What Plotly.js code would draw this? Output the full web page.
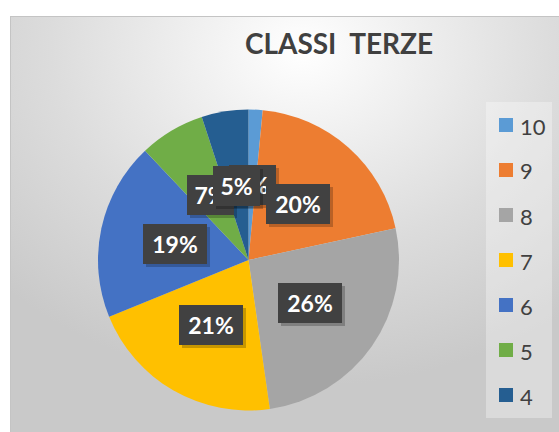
<!DOCTYPE html>
<html>
<head>
<meta charset="utf-8">
<script src="https://cdn.plot.ly/plotly-3.0.1.min.js"></script>
<style>
  html, body { margin: 0; padding: 0; background: #ffffff; }
  #wrap { position: relative; width: 559px; height: 432px; overflow: hidden; }
  #bg { position: absolute; left: 10px; top: 16px; width: 560px; height: 420px;
        border-left: 1px solid #c4c4c4; border-top: 1px solid #c4c4c4;
        background: radial-gradient(ellipse 75% 80% at 52% 8%, #ffffff 0%, #f2f2f2 22%, #dcdcdc 60%, #c9c9c9 100%); }
  #chart { position: absolute; left: 0; top: 0; width: 559px; height: 432px; }
</style>
</head>
<body>
<div id="wrap">
  <div id="bg"></div>
  <div id="chart"></div>
</div>
<script>
// ---- data ----
const categories = ['10', '9', '8', '7', '6', '5', '4'];
const values = [1.5, 20, 26, 21, 19, 7, 5];
const colors = ['#5B9BD5', '#ED7D31', '#A5A5A5', '#FFC000', '#4472C4', '#70AD47', '#255E91'];
const titleText = 'CLASSI\u00a0 TERZE';

// ---- layout geometry ----
const W = 559, H = 432;
const cx = 248.5, cy = 260, r = 150.5;   // pie centre / radius in px
const px = x => x / W;
const py = y => 1 - y / H;

const annotations = [];
const shapes = [];

// data labels (percent) computed from the values
const total = values.reduce((a, b) => a + b, 0);
let cum = 0;
values.forEach((v, i) => {
  const mid = (cum + v / 2) / total * 2 * Math.PI;
  cum += v;
  const lx = cx + 0.5 * r * Math.sin(mid);
  const ly = cy - 0.5 * r * Math.cos(mid);
  const txt = Math.round(v / total * 100) + '%';
  const bw = 17 * txt.length + 1;
  const base = {
    xref: 'paper', yref: 'paper', x: px(lx), y: py(ly),
    xanchor: 'center', yanchor: 'middle', showarrow: false,
    width: bw, height: 28, align: 'center', valign: 'middle',
    borderpad: 6, borderwidth: 0
  };
  // drop shadow box (no text)
  annotations.push(Object.assign({}, base, {
    text: ' ',
    font: { family: 'Lato, sans-serif', size: 23, color: 'rgba(0,0,0,0)' },
    bgcolor: 'rgba(0,0,0,0.22)', xshift: 3, yshift: -3
  }));
  annotations.push(Object.assign({}, base, {
    text: '<b>' + txt + '</b>',
    font: { family: 'Lato, sans-serif', size: 23, color: '#ffffff' },
    bgcolor: '#414141'
  }));
});

// legend box
shapes.push({ type: 'rect', xref: 'paper', yref: 'paper',
  x0: px(486), x1: px(552), y0: py(418), y1: py(102),
  fillcolor: 'rgba(255,255,255,0.32)', line: { width: 0 }, layer: 'below' });
categories.forEach((c, i) => {
  const yc = 125 + 45 * i;
  shapes.push({ type: 'rect', xref: 'paper', yref: 'paper',
    x0: px(499), x1: px(513), y0: py(yc + 7), y1: py(yc - 7),
    fillcolor: colors[i], line: { width: 0 } });
  annotations.push({ xref: 'paper', yref: 'paper', x: px(518), y: py(yc + 1),
    xanchor: 'left', yanchor: 'middle', showarrow: false, text: c,
    font: { family: 'Lato, sans-serif', size: 22, color: '#404040' } });
});

const trace = {
  type: 'pie',
  labels: categories,
  values: values,
  sort: false,
  direction: 'clockwise',
  rotation: 0,
  textinfo: 'none',
  hoverinfo: 'label+percent',
  marker: { colors: colors, line: { width: 0 } },
  domain: { x: [px(cx - r), px(cx + r)], y: [py(cy + r), py(cy - r)] },
  showlegend: false
};

const layout = {
  width: W, height: H,
  margin: { l: 0, r: 0, t: 0, b: 0 },
  paper_bgcolor: 'rgba(0,0,0,0)',
  plot_bgcolor: 'rgba(0,0,0,0)',
  showlegend: false,
  title: {
    text: '<b>' + titleText + '</b>',
    x: px(339), y: py(44), xref: 'paper', yref: 'paper',
    xanchor: 'center', yanchor: 'middle',
    font: { family: 'Lato, sans-serif', size: 28, color: '#404040' }
  },
  annotations: annotations,
  shapes: shapes
};

Plotly.newPlot('chart', [trace], layout, { displayModeBar: false, staticPlot: true });
</script>
</body>
</html>
